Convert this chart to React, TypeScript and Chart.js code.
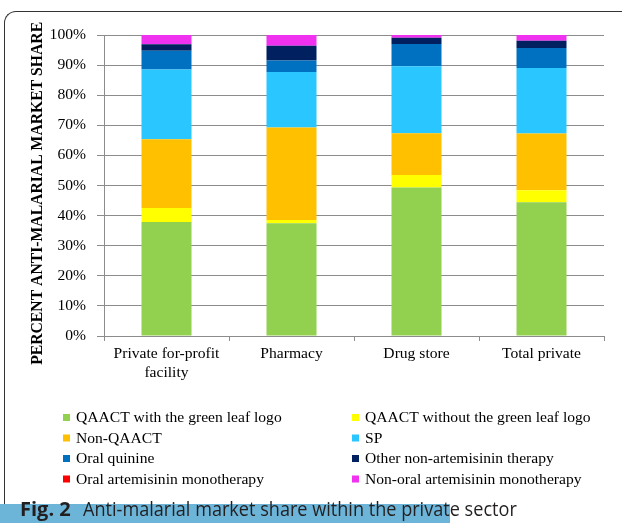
import React, { useEffect, useRef } from "react";
import { Chart, registerables } from "chart.js";

Chart.register(...registerables);

const categories: (string | string[])[] = [
  ["Private for-profit", "facility"],
  "Pharmacy",
  "Drug store",
  "Total private",
];

const seriesNames = [
  "QAACT with the green leaf logo",
  "QAACT without the green leaf logo",
  "Non-QAACT",
  "SP",
  "Oral quinine",
  "Other non-artemisinin therapy",
  "Oral artemisinin monotherapy",
  "Non-oral artemisinin monotherapy",
];

const seriesColors = [
  "#92d050",
  "#ffff00",
  "#ffc000",
  "#29c6ff",
  "#0070c0",
  "#002060",
  "#ff0000",
  "#f032f0",
];

const qaactLogo = [37.9, 37.5, 49.3, 44.4];
const qaactNoLogo = [4.6, 1.0, 4.2, 4.0];
const nonQaact = [22.9, 30.8, 13.9, 18.9];
const sp = [23.1, 18.4, 22.2, 21.7];
const oralQuinine = [6.3, 3.8, 7.4, 6.7];
const otherNonArt = [2.1, 4.9, 2.1, 2.4];
const oralArtMono = [0, 0, 0, 0];
const nonOralArtMono = [3.1, 3.6, 0.9, 1.9];

const seriesValues = [
  qaactLogo,
  qaactNoLogo,
  nonQaact,
  sp,
  oralQuinine,
  otherNonArt,
  oralArtMono,
  nonOralArtMono,
];

const yTicks = [0, 10, 20, 30, 40, 50, 60, 70, 80, 90, 100];

const SERIF = '"Liberation Serif", "Times New Roman", serif';
const FS = 15.6;

const legendPlugin = {
  id: "gridLegend",
  afterDraw(chart: any) {
    const ctx = chart.ctx;
    const cols = [63, 352];
    const rows = [417.5, 438, 458.5, 479];
    ctx.save();
    ctx.font = `${FS}px ${SERIF}`;
    ctx.textBaseline = "middle";
    ctx.textAlign = "left";
    chart.data.datasets.forEach((ds: any, i: number) => {
      const x = cols[i % 2];
      const y = rows[Math.floor(i / 2)];
      ctx.fillStyle = ds.backgroundColor;
      ctx.fillRect(x, y - 3.5, 7, 7);
      ctx.fillStyle = "#000";
      ctx.fillText(ds.label, x + 13, y + 0.5);
    });
    ctx.restore();
  },
};

export default function App() {
  const canvasRef = useRef<HTMLCanvasElement | null>(null);

  useEffect(() => {
    if (!canvasRef.current) return;
    const chart = new Chart(canvasRef.current, {
      type: "bar",
      data: {
        labels: categories,
        datasets: seriesNames.map((name, i) => ({
          label: name,
          data: seriesValues[i],
          backgroundColor: seriesColors[i],
          borderWidth: 0,
          barPercentage: 0.4,
          categoryPercentage: 1.0,
        })),
      },
      options: {
        animation: false,
        responsive: false,
        maintainAspectRatio: false,
        layout: { padding: { left: 0, top: 35, right: 18, bottom: 137 } },
        plugins: {
          legend: { display: false },
          tooltip: { enabled: false },
        },
        scales: {
          x: {
            stacked: true,
            offset: true,
            grid: {
              offset: true,
              drawOnChartArea: false,
              drawTicks: true,
              tickLength: 5,
              color: "#8c8c8c",
            },
            border: { color: "#8c8c8c", width: 1 },
            ticks: {
              color: "#000",
              font: { family: SERIF, size: FS, lineHeight: 1.22 },
              padding: 3,
              maxRotation: 0,
              autoSkip: false,
            },
            afterFit: (scale: any) => {
              scale.height = 50;
            },
          },
          y: {
            stacked: true,
            min: 0,
            max: 100,
            afterBuildTicks: (scale: any) => {
              scale.ticks = yTicks.map((v) => ({ value: v }));
            },
            grid: {
              color: "#8c8c8c",
              lineWidth: 1,
              tickLength: 7,
            },
            border: { color: "#8c8c8c", width: 1 },
            ticks: {
              color: "#000",
              font: { family: SERIF, size: FS },
              padding: 11,
              callback: (v: any) => `${v}%`,
            },
            title: {
              display: true,
              text: "PERCENT ANTI-MALARIAL MARKET SHARE    ",
              color: "#000",
              font: { family: SERIF, size: 15.7, weight: "bold" },
              padding: { top: 29, bottom: 0 },
            },
            afterFit: (scale: any) => {
              scale.width = 104;
            },
          },
        },
      },
      plugins: [legendPlugin],
    });
    return () => chart.destroy();
  }, []);

  return (
    <div
      style={{
        position: "fixed",
        left: 0,
        top: 0,
        width: 622,
        height: 523,
        overflow: "hidden",
        background: "#fff",
      }}
    >
      <div
        style={{
          position: "absolute",
          left: 4,
          top: 11,
          width: 700,
          height: 600,
          borderLeft: "1.5px solid #333",
          borderTop: "1.5px solid #333",
          borderTopLeftRadius: 12,
          boxSizing: "border-box",
        }}
      />
      <canvas
        ref={canvasRef}
        width={622}
        height={523}
        style={{ position: "absolute", left: 0, top: 0, width: 622, height: 523 }}
      />
      <div
        style={{
          position: "absolute",
          left: 0,
          top: 504,
          width: 450,
          height: 19,
          background: "#6cb4d8",
        }}
      />
      <div
        style={{
          position: "absolute",
          left: 20,
          top: 499,
          height: 20,
          lineHeight: "20px",
          whiteSpace: "nowrap",
          fontFamily: '"Open Sans", "Noto Sans", sans-serif',
          fontSize: 20,
          color: "#231f20",
        }}
      >
        <span style={{ fontWeight: 700, position: "absolute", left: 0 }}>Fig. 2</span>
        <span
          style={{
            position: "absolute",
            left: 63,
            display: "inline-block",
            transform: "scaleX(0.905)",
            transformOrigin: "left center",
          }}
        >
          Anti-malarial market share within the private sector
        </span>
      </div>
    </div>
  );
}
